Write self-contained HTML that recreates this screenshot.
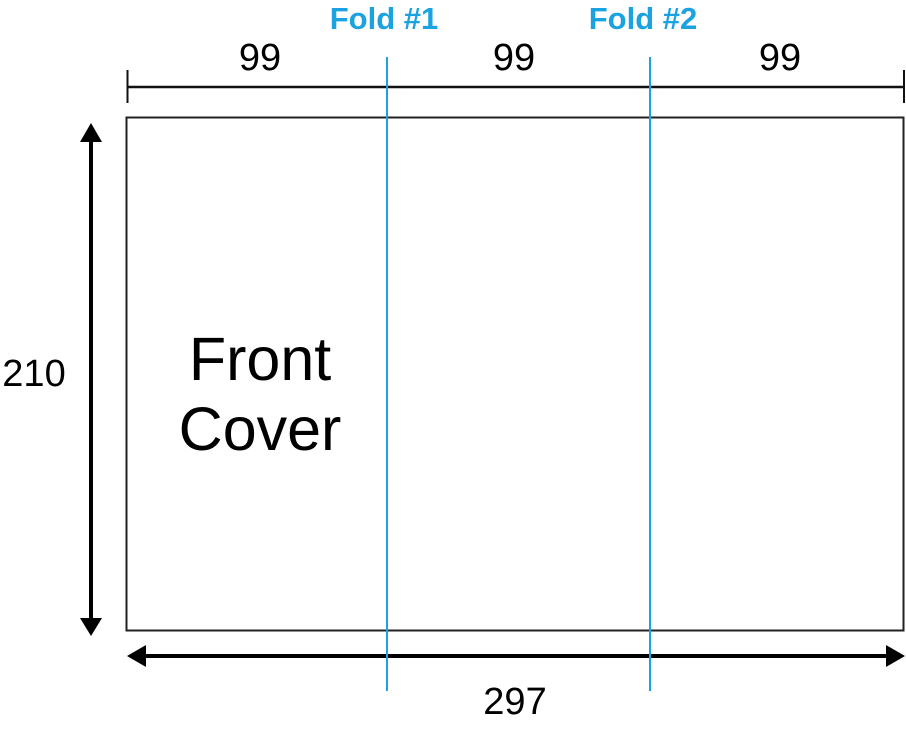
<!DOCTYPE html>
<html><head><meta charset="utf-8"><style>html,body{margin:0;padding:0;background:#fff}svg{display:block}</style></head>
<body>
<svg width="906" height="734" viewBox="0 0 906 734" xmlns="http://www.w3.org/2000/svg" font-family="Liberation Sans, sans-serif">
<rect x="126.5" y="117.5" width="777" height="513" fill="none" stroke="#222" stroke-width="2"/>
<line x1="127" y1="87" x2="904" y2="87" stroke="#111" stroke-width="2.5"/>
<line x1="127.5" y1="70" x2="127.5" y2="103" stroke="#111" stroke-width="2"/>
<line x1="904" y1="70" x2="904" y2="103" stroke="#111" stroke-width="2"/>
<line x1="91" y1="140" x2="91" y2="618" stroke="#000" stroke-width="4"/>
<polygon points="91,123 80,142 102,142" fill="#000"/>
<polygon points="91,636 80,618 102,618" fill="#000"/>
<line x1="145" y1="656" x2="886" y2="656" stroke="#000" stroke-width="4"/>
<polygon points="127,656 146,645 146,667" fill="#000"/>
<polygon points="905,656 886,645 886,667" fill="#000"/>
<line x1="387" y1="57" x2="387" y2="691" stroke="#1aa3e0" stroke-width="2"/>
<line x1="650" y1="57" x2="650" y2="691" stroke="#1aa3e0" stroke-width="2"/>
<g font-size="38" fill="#000" text-anchor="middle">
<text x="260" y="70">99</text>
<text x="514" y="70">99</text>
<text x="780" y="70">99</text>
<text x="515" y="714">297</text>
<text x="34" y="386">210</text>
</g>
<g font-size="31" font-weight="bold" fill="#1aa3e0" text-anchor="middle">
<text x="384" y="29">Fold #1</text>
<text x="643" y="29">Fold #2</text>
</g>
<g font-size="61" fill="#000" text-anchor="middle">
<text x="260" y="380">Front</text>
<text x="260" y="450">Cover</text>
</g>
</svg>
</body></html>
